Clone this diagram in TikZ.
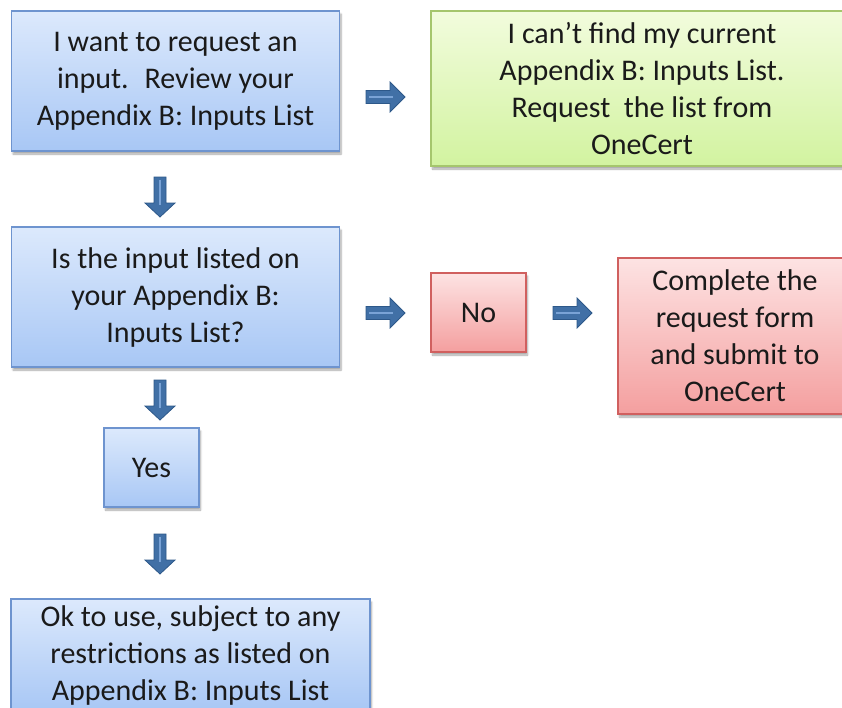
\documentclass[tikz,border=0pt]{standalone}
\usepackage{fontspec}
\setmainfont{Carlito}
\usetikzlibrary{shadows.blur}

\definecolor{bluetop}{HTML}{DCE9FC}
\definecolor{bluebot}{HTML}{A8C7F5}
\definecolor{blueedge}{HTML}{6E94CF}
\definecolor{greentop}{HTML}{F2FCDD}
\definecolor{greenbot}{HTML}{D2F3A0}
\definecolor{greenedge}{HTML}{A5C66D}
\definecolor{redtop}{HTML}{FDE3E3}
\definecolor{redbot}{HTML}{F49F9F}
\definecolor{rededge}{HTML}{D0605F}
\definecolor{arrowfill}{HTML}{4170A6}
\definecolor{arrowedge}{HTML}{2D5889}
\definecolor{arrowline}{HTML}{7AA3D6}
\definecolor{textcol}{HTML}{1A1A1A}

\tikzset{
	box/.style={rectangle,draw,line width=1.2pt,inner sep=0pt,align=center,
		text=textcol,font=\fontsize{30}{37}\selectfont,
		blur shadow={shadow xshift=1.5pt,shadow yshift=-3pt,shadow opacity=35,shadow blur steps=6}},
	bluebox/.style={box,draw=blueedge,top color=bluetop,bottom color=bluebot},
	greenbox/.style={box,draw=greenedge,top color=greentop,bottom color=greenbot},
	redbox/.style={box,draw=rededge,top color=redtop,bottom color=redbot},
	rarrow/.pic={
		\filldraw[fill=arrowfill,draw=arrowedge,line width=0.8pt] (0,-6.5) -- (24,-6.5) -- (24,-15) -- (39,0) -- (24,15) -- (24,6.5) -- (0,6.5) -- cycle;
		\draw[arrowline,line width=2pt] (3,0) -- (27,0);
	},
	darrow/.pic={
		\filldraw[fill=arrowfill,draw=arrowedge,line width=0.8pt] (-6,0) -- (-6,26) -- (-15,26) -- (0,40) -- (15,26) -- (6,26) -- (6,0) -- cycle;
		\draw[arrowline,line width=2pt] (0,3) -- (0,28);
	}
}

\begin{document}
\begin{tikzpicture}[x=1pt,y=-1pt]
	\useasboundingbox (0,0) rectangle (842,707);
	\clip (0,0) rectangle (842,707);

	% Cajas
	\node[bluebox,minimum width=328pt,minimum height=140pt] (request) at (175.5,81)
		{I want to request an\\input.~ Review your\\Appendix B: Inputs List};
	\node[greenbox,minimum width=422pt,minimum height=155pt] (nolist) at (642,88.5)
		{I can’t find my current\\Appendix B: Inputs List.\\Request~ the list from\\OneCert};
	\node[bluebox,minimum width=328pt,minimum height=140pt] (listed) at (175.5,297)
		{Is the input listed on\\your Appendix B:\\Inputs List?};
	\node[redbox,minimum width=95pt,minimum height=79pt] (no) at (478.5,312.5) {No};
	\node[redbox,minimum width=234pt,minimum height=156pt] (form) at (735,336)
		{Complete the\\request form\\and submit to\\OneCert};
	\node[bluebox,minimum width=95pt,minimum height=79pt] (yes) at (151.5,467.5) {Yes};
	\node[bluebox,minimum width=359pt,minimum height=112pt] (ok) at (190.5,655)
		{Ok to use, subject to any\\restrictions as listed on\\Appendix B: Inputs List};

	% Flechas
	\pic at (366,97) {rarrow};
	\pic at (366,313) {rarrow};
	\pic at (553,313) {rarrow};
	\pic at (160,177) {darrow};
	\pic at (160,380) {darrow};
	\pic at (160,534) {darrow};
\end{tikzpicture}
\end{document}
